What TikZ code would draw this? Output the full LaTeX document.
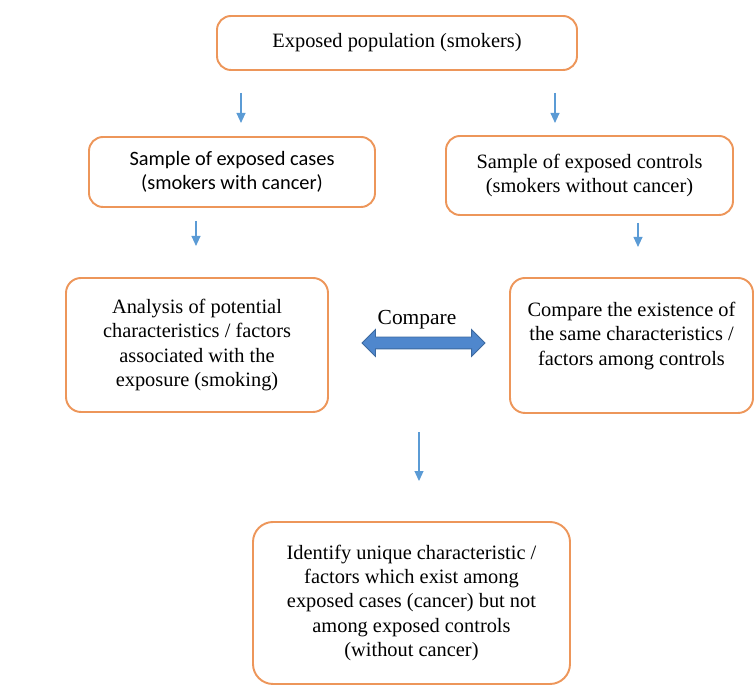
\documentclass[tikz,border=0pt]{standalone}
\usepackage{fontspec}
\setmainfont{Liberation Serif}
\newfontfamily\carlito{Carlito}
\usetikzlibrary{shapes.arrows, arrows.meta, calc}

\definecolor{boxorange}{RGB}{237,150,90}
\definecolor{arrblue}{RGB}{91,155,213}
\definecolor{dblfill}{RGB}{79,135,205}
\definecolor{dbldraw}{RGB}{60,105,160}

\begin{document}
\begin{tikzpicture}[
    box/.style={rectangle, draw=boxorange, line width=1.1pt,
                rounded corners=#1, align=center,
                font=\fontsize{11.6}{13.9}\selectfont},
    box/.default=0.28cm,
    txt/.style={align=center, font=\fontsize{11.6}{13.9}\selectfont},
    arr/.style={-{Triangle[length=0.2cm, width=0.18cm]}, line width=0.6pt, draw=arrblue},
    dblarr/.style={double arrow, draw=dbldraw, fill=dblfill, line width=0.5pt,
                   text height=0.11cm, text depth=0.11cm, minimum height=2.46cm,
                   double arrow head extend=0.15cm, inner sep=0pt},
]

% --- page frame ---
\useasboundingbox (0,0) rectangle (15.12,13.72);

% ============================================================
%  Row 1 -- population
% ============================================================
\node (expop) [box, minimum width=7.2cm, minimum height=1.08cm] at (7.94, 12.86)
    {Exposed population (smokers)};

% ============================================================
%  Row 2 -- samples
% ============================================================
\node (cases) [box, minimum width=5.72cm, minimum height=1.4cm, font=\carlito\fontsize{11.6}{13.9}\selectfont]
    at (4.64, 10.28)
    {Sample of exposed cases\\(smokers with cancer)};

\node (controls) [box, minimum width=5.74cm, minimum height=1.58cm] at (11.79, 10.21)
    {Sample of exposed controls\\(smokers without cancer)};

% --- row 1 -> row 2 arrows ---
\draw [arr] ($(expop.south -| cases.north)+(0.18,-0.44)$) -- ++(0,-0.6);
\draw [arr] ($(expop.south -| controls.north)+(-0.69,-0.44)$) -- ++(0,-0.6);

% ============================================================
%  Row 3 -- analysis / comparison
% ============================================================
\node (analysis) [box=0.3cm, minimum width=5.24cm, minimum height=2.68cm] at (3.94, 6.82)
    {Analysis of potential\\characteristics / factors\\associated with the\\exposure (smoking)};

\node (cmpctl) [box=0.3cm, minimum width=4.86cm, minimum height=2.7cm] at (12.63, 6.81) {};
\node (cmpctltxt) [txt] at ($(cmpctl.center)+(0,0.19)$)
    {Compare the existence of\\the same characteristics /\\factors among controls};

% --- row 2 -> row 3 arrows ---
\draw [arr] ($(cases.south)+(-0.72,-0.26)$) -- ++(0,-0.5);
\draw [arr] ($(controls.south)+(0.97,-0.14)$) -- ++(0,-0.48);

% --- compare ---
\node (cmparrow) [dblarr] at (8.47, 6.86) {};
\node (cmplabel) [txt, font=\fontsize{12.2}{14}\selectfont] at (8.34, 7.32) {Compare};

% ============================================================
%  Row 4 -- result
% ============================================================
\node (identify) [box=0.4cm, minimum width=6.34cm, minimum height=3.24cm] at (8.23, 1.66)
    {Identify unique characteristic /\\factors which exist among\\exposed cases (cancer) but not\\among exposed controls\\(without cancer)};

\draw [arr] ($(identify.north)+(0.15,1.78)$) -- ++(0,-0.98);

\end{tikzpicture}
\end{document}
